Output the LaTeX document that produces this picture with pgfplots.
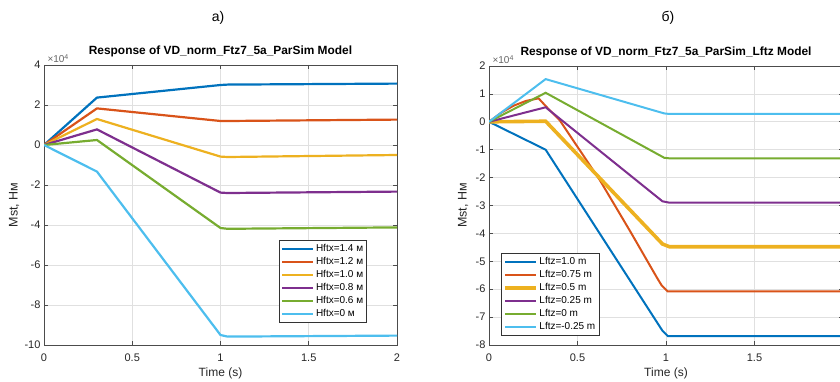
\documentclass[border=0pt]{standalone}
\usepackage{pgfplots}
\pgfplotsset{compat=1.18}
\usepackage{fontspec}
\setmainfont{Liberation Sans}
\definecolor{c1}{rgb}{0,0.447,0.741}
\definecolor{c2}{rgb}{0.85,0.325,0.098}
\definecolor{c3}{rgb}{0.929,0.694,0.125}
\definecolor{c4}{rgb}{0.494,0.184,0.556}
\definecolor{c5}{rgb}{0.466,0.674,0.188}
\definecolor{c6}{rgb}{0.301,0.745,0.933}
\begin{document}
\begin{tikzpicture}[x=1pt,y=1pt]
\pgfplotsset{
  mstyle/.style={
    scale only axis,
    axis line style={draw=black!70, line width=0.6pt},
    tick style={draw=black!70, line width=0.6pt},
    major tick length=4pt,
    tick align=inside,
    grid=major,
    major grid style={draw=black!12, line width=0.6pt},
    xmin=0, xmax=2,
    xtick={0,0.5,1,1.5,2},
    ticklabel style={font=\fontsize{11}{13}\selectfont, text=black!85},
    xticklabel style={anchor=base, yshift=-16pt},
    xlabel={Time (s)},
    xlabel style={at={(axis description cs:0.5,0)}, anchor=base, yshift=-31.5pt, font=\fontsize{12}{14}\selectfont, text=black!85},
    ylabel={Mst, Нм},
    ylabel style={font=\fontsize{12.5}{14}\selectfont, text=black!85},
    title style={at={(axis description cs:0.5,1)}, anchor=base, yshift=4pt, font=\bfseries\fontsize{11.9}{13}\selectfont},
    legend cell align=left,
    legend image code/.code={\draw[##1] (0pt,0pt) -- (31pt,0pt);},
    legend style={font=\fontsize{10}{11}\selectfont, draw=black!80, line width=0.6pt, inner sep=2pt, row sep=0pt,
      nodes={inner sep=1.5pt, text height=7.5pt, text depth=2.5pt}},
  }
}
% ---------------- left ----------------
\begin{axis}[mstyle, name=L,
  at={(44pt,36pt)}, anchor=south west,
  width=353pt, height=280pt,
  ymin=-10, ymax=4,
  xticklabels={0,0.5,1,1.5,2},
  ytick={-10,-8,-6,-4,-2,0,2,4},
  yticklabels={-10,-8,-6,-4,-2,0,2,4},
  ylabel style={at={(axis description cs:0,0.5)}, anchor=center, yshift=30pt},
  title={Response of VD\_norm\_Ftz7\_5a\_ParSim Model},
  every axis plot/.append style={line width=2.2pt},
  legend style={at={(0.915,0.079)}, anchor=south east},
]
\addplot[c1] coordinates {(0,0) (0.3,2.37) (1,3.0) (1.04,3.02) (2,3.07)};
\addlegendentry{Hftx=1.4 м}
\addplot[c2] coordinates {(0,0) (0.3,1.83) (1,1.2) (1.04,1.2) (2,1.27)};
\addlegendentry{Hftx=1.2 м}
\addplot[c3] coordinates {(0,0) (0.3,1.3) (1,-0.58) (1.04,-0.6) (2,-0.5)};
\addlegendentry{Hftx=1.0 м}
\addplot[c4] coordinates {(0,0) (0.3,0.78) (1,-2.38) (1.04,-2.4) (2,-2.33)};
\addlegendentry{Hftx=0.8 м}
\addplot[c5] coordinates {(0,0) (0.3,0.25) (1,-4.15) (1.04,-4.19) (2,-4.12)};
\addlegendentry{Hftx=0.6 м}
\addplot[c6] coordinates {(0,0) (0.3,-1.33) (1,-9.5) (1.04,-9.58) (2,-9.53)};
\addlegendentry{Hftx=0 м}
\end{axis}
\node[anchor=base west, font=\fontsize{10}{12}\selectfont, text=black!60] at ([yshift=2pt]L.north west) {×10\textsuperscript{4}};
% ---------------- right ----------------
\begin{axis}[mstyle, name=R,
  at={(489pt,36pt)}, anchor=south west,
  width=354pt, height=279pt,
  ymin=-8, ymax=2,
  xticklabels={0,0.5,1,1.5,{}},
  ytick={-8,-7,-6,-5,-4,-3,-2,-1,0,1,2},
  yticklabels={-8,-7,-6,-5,-4,-3,-2,-1,0,1,2},
  ylabel style={at={(axis description cs:0,0.5)}, anchor=center, yshift=26pt},
  title={Response of VD\_norm\_Ftz7\_5a\_ParSim\_Lftz Model},
  every axis plot/.append style={line width=2pt},
  legend style={at={(0.034,0.032)}, anchor=south west},
]
\addplot[c1] coordinates {(0,0) (0.32,-1.0) (0.98,-7.49) (1.01,-7.68) (2,-7.68)};
\addlegendentry{Lftz=1.0 m}
\addplot[c2] coordinates {(0,0) (0.07,0.33) (0.14,0.58) (0.21,0.75) (0.28,0.84) (0.33,0.5) (0.4,0.05) (0.627,-2.1) (0.8,-3.95) (0.95,-5.6) (0.976,-5.87) (1.01,-6.08) (2,-6.08)};
\addlegendentry{Lftz=0.75 m}
\addplot[c3, line width=3.6pt] coordinates {(0,0) (0.32,0.02) (0.98,-4.38) (1.02,-4.48) (2,-4.48)};
\addlegendentry{Lftz=0.5 m}
\addplot[c4] coordinates {(0,0) (0.32,0.52) (0.98,-2.85) (1.02,-2.9) (2,-2.9)};
\addlegendentry{Lftz=0.25 m}
\addplot[c5] coordinates {(0,0) (0.32,1.04) (0.99,-1.29) (1.02,-1.31) (2,-1.31)};
\addlegendentry{Lftz=0 m}
\addplot[c6] coordinates {(0,0) (0.32,1.53) (0.99,0.3) (1.02,0.28) (2,0.28)};
\addlegendentry{Lftz=-0.25 m}
\end{axis}
\node[anchor=base west, font=\fontsize{10}{12}\selectfont, text=black!60] at ([yshift=2pt]R.north west) {×10\textsuperscript{4}};
% panel labels
\node[font=\fontsize{14}{16}\selectfont] at (218pt,363pt) {а)};
\node[font=\fontsize{14}{16}\selectfont] at (668pt,363pt) {б)};
\pgfresetboundingbox
\path[use as bounding box] (0,0) rectangle (840pt,381pt);
\end{tikzpicture}
\end{document}
